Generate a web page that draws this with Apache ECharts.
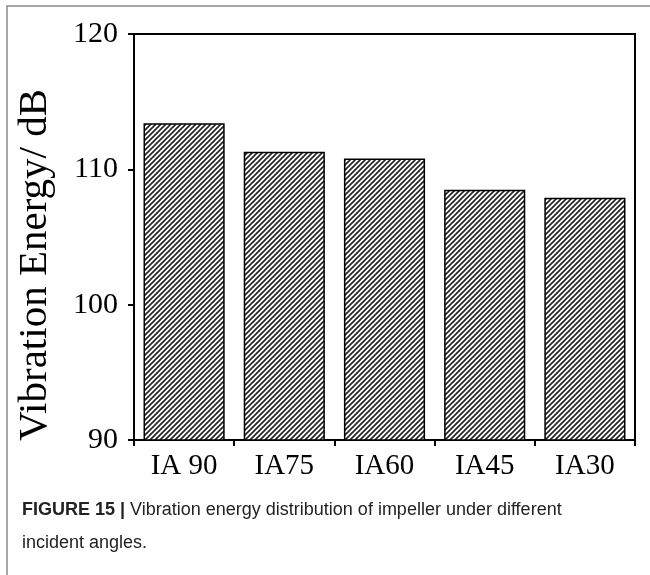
<!DOCTYPE html>
<html>
<head>
<meta charset="utf-8">
<script src="https://cdn.jsdelivr.net/npm/echarts@6/dist/echarts.min.js"></script>
<style>
html,body{margin:0;padding:0;background:#fff;}
#main{width:650px;height:575px;}
</style>
</head>
<body>
<div id="main"></div>
<script>
const categories = ['IA 90', 'IA75', 'IA60', 'IA45', 'IA30'];
const vibrationEnergy = [113.4, 111.3, 110.8, 108.5, 107.9];
const yTicks = [90, 100, 110, 120];
const yAxisTitle = 'Vibration Energy/ dB';
const captionBold = 'FIGURE 15 |';
const captionLine1 = ' Vibration energy distribution of impeller under different';
const captionLine2 = 'incident angles.';

// hatch pattern
const tile = document.createElement('canvas');
const P = 5;
tile.width = P; tile.height = P;
const ctx = tile.getContext('2d');
ctx.fillStyle = '#fff';
ctx.fillRect(0, 0, P, P);
ctx.strokeStyle = '#222';
ctx.lineWidth = 1.6;
ctx.beginPath();
ctx.moveTo(-1, P + 1); ctx.lineTo(P + 1, -1);
ctx.moveTo(-1, 1); ctx.lineTo(1, -1);
ctx.moveTo(P - 1, P + 1); ctx.lineTo(P + 1, P - 1);
ctx.stroke();

const chart = echarts.init(document.getElementById('main'), null, {renderer: 'canvas'});
const serif = 'Liberation Serif';
const sans = '"Liberation Sans Narrow", "Liberation Sans", Arial, sans-serif';
chart.setOption({
  animation: false,
  backgroundColor: '#fff',
  grid: {left: 134, right: 15, top: 34, bottom: 135, show: true, borderColor: '#000', borderWidth: 2, backgroundColor: 'transparent'},
  xAxis: {
    type: 'category',
    data: categories,
    axisLine: {lineStyle: {color: '#000', width: 2}},
    axisTick: {show: true, length: 6, lineStyle: {color: '#000', width: 2}},
    axisLabel: {color: '#000', fontFamily: serif, fontSize: 29, margin: 12}
  },
  yAxis: {
    type: 'value',
    min: yTicks[0],
    max: yTicks[yTicks.length - 1],
    interval: 10,
    name: yAxisTitle,
    nameLocation: 'middle',
    nameGap: 78,
    nameTextStyle: {color: '#000', fontFamily: serif, fontSize: 41, padding: [0, 56, 0, 0]},
    axisLine: {show: true, lineStyle: {color: '#000', width: 2}},
    axisTick: {show: true, length: 6, lineStyle: {color: '#000', width: 2}},
    splitLine: {show: false},
    axisLabel: {color: '#000', fontFamily: serif, fontSize: 30, margin: 16}
  },
  series: [{
    type: 'bar',
    data: vibrationEnergy,
    barCategoryGap: '19%',
    itemStyle: {color: {image: tile, repeat: 'repeat'}, borderColor: '#000', borderWidth: 1.5}
  }],
  graphic: [
    {type: 'rect', shape: {x: 7, y: 6, width: 700, height: 700}, style: {fill: 'none', stroke: '#8a8a8a', lineWidth: 1.5}, silent: true},
    {type: 'text', left: 22, top: 501, style: {
      text: '{b|' + captionBold + '}{n|' + captionLine1 + '}\n{n|' + captionLine2 + '}',
      rich: {
        b: {fontFamily: sans, fontWeight: 'bold', fontSize: 18, fill: '#222', lineHeight: 33},
        n: {fontFamily: sans, fontSize: 18, fill: '#222', lineHeight: 33}
      }
    }}
  ]
});
</script>
</body>
</html>
